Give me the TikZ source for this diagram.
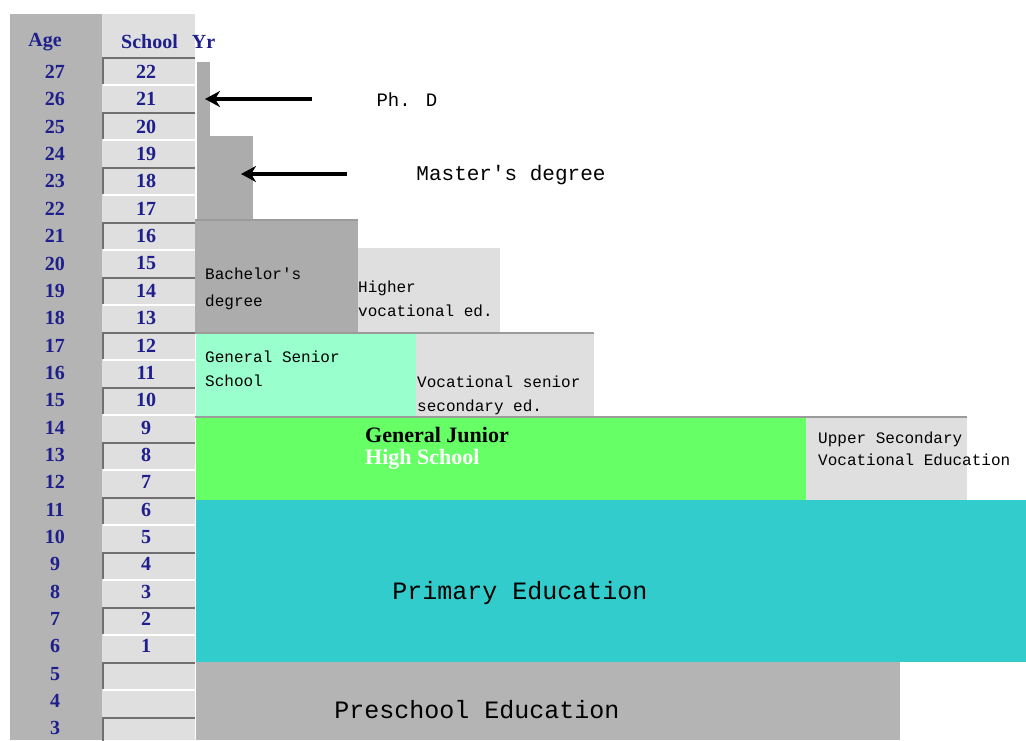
\documentclass[tikz,border=0pt]{standalone}
\usepackage{fontspec}
\setmainfont{Liberation Serif}
\newfontfamily\stagefont{Liberation Mono}
\usetikzlibrary{arrows.meta}
\definecolor{agegray}{RGB}{180,180,180}
\definecolor{cellgray}{RGB}{223,223,223}
\definecolor{bargray}{RGB}{172,172,172}
\definecolor{rulegray}{RGB}{112,112,112}
\definecolor{yearblue}{RGB}{30,30,140}
\definecolor{mint}{RGB}{153,255,204}
\definecolor{lime}{RGB}{102,255,102}
\definecolor{primteal}{RGB}{51,204,204}
\tikzset {
    yearnum/.style={text=yearblue, font=\bfseries\fontsize{20}{22}\selectfont, inner sep=0pt},
    stagetext/.style={font=\stagefont\fontsize{16}{24}\selectfont, align=left, anchor=west, inner sep=0pt},
    bigtext/.style={font=\stagefont\fontsize{25}{30}\selectfont, inner sep=0pt},
    pointer/.style={line width=4pt, -{Stealth[length=15pt, width=16pt]}},
    splitline/.style={rulegray!70, line width=1.5pt}
}
\begin{document}
\begin{tikzpicture}[x=1pt, y=-1pt]
    \useasboundingbox (0,0) rectangle (1026,740);
    \fill[white] (0,0) rectangle (1026,740);

    \fill[agegray] (10,14) rectangle (102,740);
    \fill[cellgray] (102,14) rectangle (195,740);
    \foreach \k in {0,...,24} {
        \pgfmathsetmacro\ry{57.5+27.5*\k}
        \ifodd\k
            \draw[white, line width=2pt] (103,\ry) -- (195,\ry);
        \else
            \draw[rulegray, line width=2pt] (103,\ry+26) -- (103,\ry) -- (195,\ry);
        \fi
    }

    \node[yearnum] (agehead) at (45,42) {Age};
    \node[yearnum, anchor=west] (yrhead) at (121,42) {School\hspace{14pt}Yr};
    \foreach \a in {3,...,27} {
        \pgfmathsetmacro\ry{72+27.35*(27-\a)}
        \node[yearnum] (age\a) at (55,\ry) {\a};
        \ifnum\a>5
            \pgfmathtruncatemacro\yr{\a-5}
            \node[yearnum] (yr\yr) at (146,\ry) {\yr};
        \fi
    }

    \fill[bargray] (197,62) rectangle (210,136);
    \fill[bargray] (197,136) rectangle (253,220);
    \fill[bargray] (195,220) rectangle (358,333);
    \fill[cellgray] (358,248) rectangle (500,333);
    \fill[mint] (196,333) rectangle (416,417);
    \fill[cellgray] (416,333) rectangle (594,417);
    \fill[lime] (196,417) rectangle (806,500);
    \fill[cellgray] (806,417) rectangle (967,500);
    \fill[primteal] (196,500) rectangle (1026,662);
    \fill[agegray] (196,662) rectangle (900,740);
    \draw[splitline] (195,220) -- (358,220);
    \draw[splitline] (195,333) -- (594,333);
    \draw[splitline] (195,417) -- (967,417);

    \node[stagetext, font=\stagefont\fontsize{16}{27}\selectfont] (bachelor) at (205,289) {Bachelor's\\degree};
    \node[stagetext] (highervoc) at (358,299) {Higher\\vocational ed.};
    \node[stagetext] (gensenior) at (205,369) {General Senior\\School};
    \node[stagetext] (vocsenior) at (417,395) {Vocational senior\\secondary ed.};
    \node[stagetext, font=\bfseries\fontsize{22}{22}\selectfont] (genjunior) at (365,448) {General Junior\\\color{white}High School};
    \node[stagetext, font=\stagefont\fontsize{16}{22}\selectfont] (uppervoc) at (818,449) {Upper Secondary\\Vocational Education};
    \node[bigtext] (primary) at (520,593) {Primary Education};
    \node[bigtext] (preschool) at (477,710) {Preschool Education};

    \node[stagetext, font=\stagefont\fontsize{19}{22}\selectfont, anchor=center] (phd) at (407,100) {Ph. D};
    \node[stagetext, font=\stagefont\fontsize{21}{24}\selectfont, anchor=center] (master) at (511,175) {Master's degree};
    \coordinate (phdtail) at (312,99);
    \coordinate (phdtip) at (205,99);
    \coordinate (mastertail) at (347,174);
    \coordinate (mastertip) at (241,174);
    \draw[pointer] (phdtail) -- (phdtip);
    \draw[pointer] (mastertail) -- (mastertip);
\end{tikzpicture}
\end{document}
